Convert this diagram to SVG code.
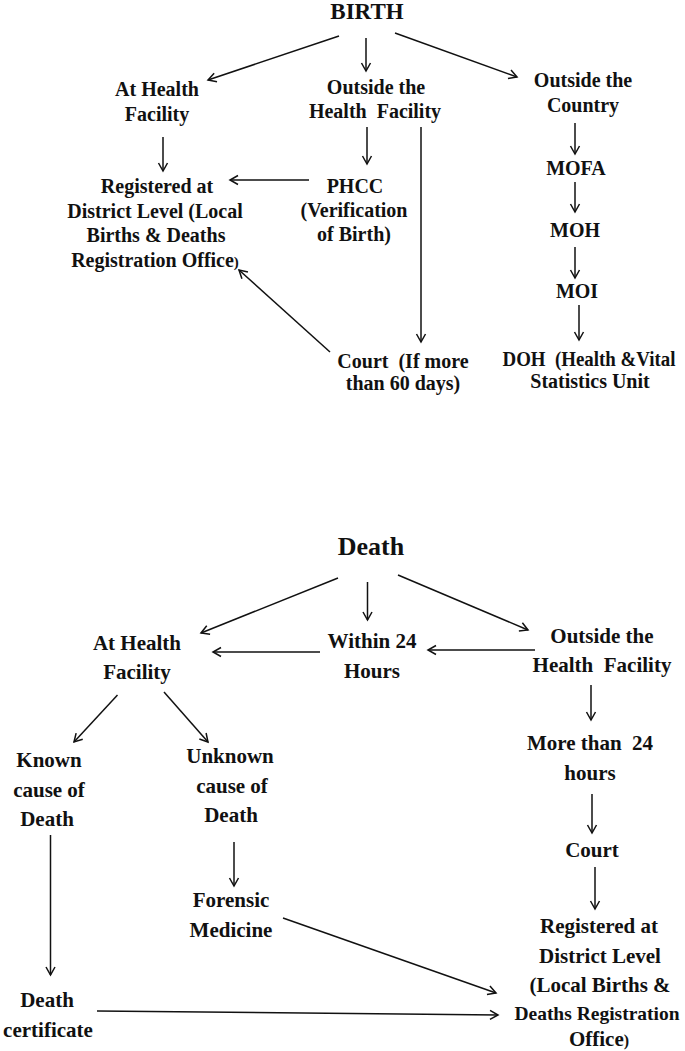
<svg xmlns="http://www.w3.org/2000/svg" width="685" height="1051" viewBox="0 0 685 1051">
<defs>
<style>
text{font-family:"Liberation Serif","Times New Roman",serif;font-weight:bold;fill:#111;text-anchor:middle}
.b{font-size:20px}
.d{font-size:21px}
.t1{font-size:23px}
.t2{font-size:26px}
.c line{stroke:#111;stroke-width:1.5;marker-end:url(#ah)}
</style>
<marker id="ah" viewBox="-10 -6 12 12" refX="0" refY="0" markerWidth="12" markerHeight="12" markerUnits="userSpaceOnUse" orient="auto">
<path d="M-8,-4.5 L0,0 L-8,4.5" fill="none" stroke="#111" stroke-width="1.5"/>
</marker>
</defs>
<rect width="685" height="1051" fill="#fff"/>

<g id="birth"><text class="t1" x="367" y="19">BIRTH</text></g>
<g id="b-athealth"><text class="b" x="157" y="96">At Health</text><text class="b" x="157" y="121">Facility</text></g>
<g id="b-outside"><text class="b" x="376" y="94">Outside the</text><text class="b" x="375" y="118" xml:space="preserve">Health  Facility</text></g>
<g id="b-country"><text class="b" x="583" y="87">Outside the</text><text class="b" x="583" y="112">Country</text></g>
<g id="b-registered"><text class="b" x="157" y="193">Registered at</text><text class="b" x="155" y="218">District Level (Local</text><text class="b" x="156" y="242">Births &amp; Deaths</text><text class="b" x="155" y="267">Registration Office<tspan font-size="15">)</tspan></text></g>
<g id="b-phcc"><text class="b" x="355" y="193">PHCC</text><text class="b" x="354" y="217">(Verification</text><text class="b" x="354" y="241">of Birth)</text></g>
<g id="b-mofa"><text class="b" x="576" y="175">MOFA</text></g>
<g id="b-moh"><text class="b" x="575" y="237">MOH</text></g>
<g id="b-moi"><text class="b" x="577" y="298">MOI</text></g>
<g id="b-doh"><text class="b" x="589" y="366" xml:space="preserve" textLength="173" lengthAdjust="spacingAndGlyphs">DOH  (Health &amp;Vital</text><text class="b" x="590" y="388">Statistics Unit</text></g>
<g id="b-court"><text class="b" x="403" y="368" xml:space="preserve">Court  (If more</text><text class="b" x="403" y="390">than 60 days)</text></g>

<g id="death"><text class="t2" x="371" y="555">Death</text></g>
<g id="d-athealth"><text class="d" x="137" y="650">At Health</text><text class="d" x="137" y="679">Facility</text></g>
<g id="d-within"><text class="d" x="372" y="648">Within 24</text><text class="d" x="372" y="678">Hours</text></g>
<g id="d-outside"><text class="d" x="602" y="643">Outside the</text><text class="d" x="602" y="672" xml:space="preserve">Health  Facility</text></g>
<g id="d-known"><text class="d" x="49" y="767">Known</text><text class="d" x="49" y="797">cause of</text><text class="d" x="47" y="826">Death</text></g>
<g id="d-unknown"><text class="d" x="230" y="763">Unknown</text><text class="d" x="232" y="793">cause of</text><text class="d" x="231" y="822">Death</text></g>
<g id="d-more"><text class="d" x="590" y="750" xml:space="preserve">More than  24</text><text class="d" x="590" y="780">hours</text></g>
<g id="d-court"><text class="d" x="592" y="857">Court</text></g>
<g id="d-forensic"><text class="d" x="231" y="907">Forensic</text><text class="d" x="231" y="937">Medicine</text></g>
<g id="d-certificate"><text class="d" x="47" y="1007">Death</text><text class="d" x="48" y="1037">certificate</text></g>
<g id="d-registered"><text class="d" x="599" y="933">Registered at</text><text class="d" x="600" y="963">District Level</text><text class="d" x="600" y="992">(Local Births &amp;</text><text x="597" y="1020" font-size="19.5">Deaths Registration</text><text class="d" x="599" y="1046">Office<tspan font-size="16">)</tspan></text></g>

<g id="connectors" class="c">
<line x1="339" y1="36" x2="208" y2="80"/>
<line x1="366" y1="38" x2="366" y2="71"/>
<line x1="395" y1="33" x2="517" y2="77"/>
<line x1="163" y1="137" x2="163" y2="171"/>
<line x1="367" y1="127" x2="367" y2="164"/>
<line x1="421" y1="127" x2="421" y2="342"/>
<line x1="575" y1="123" x2="575" y2="154"/>
<line x1="309" y1="180" x2="230" y2="180"/>
<line x1="575" y1="182" x2="575" y2="212"/>
<line x1="575" y1="247" x2="575" y2="278"/>
<line x1="579" y1="305" x2="579" y2="340"/>
<line x1="330" y1="352" x2="239" y2="270"/>

<line x1="338" y1="578" x2="201" y2="633"/>
<line x1="367.5" y1="582" x2="367.5" y2="620"/>
<line x1="398" y1="575" x2="528" y2="630"/>
<line x1="320" y1="652" x2="213" y2="652"/>
<line x1="535" y1="650" x2="428" y2="650"/>
<line x1="117.5" y1="695" x2="74" y2="742"/>
<line x1="164" y1="692" x2="208" y2="742"/>
<line x1="591" y1="685" x2="591" y2="720"/>
<line x1="50.5" y1="835" x2="50.5" y2="975"/>
<line x1="234" y1="842" x2="234" y2="886"/>
<line x1="592" y1="794" x2="592" y2="833"/>
<line x1="595" y1="867" x2="595" y2="909"/>
<line x1="283" y1="918" x2="496" y2="993"/>
<line x1="97" y1="1011" x2="498" y2="1015"/>
</g>
</svg>
